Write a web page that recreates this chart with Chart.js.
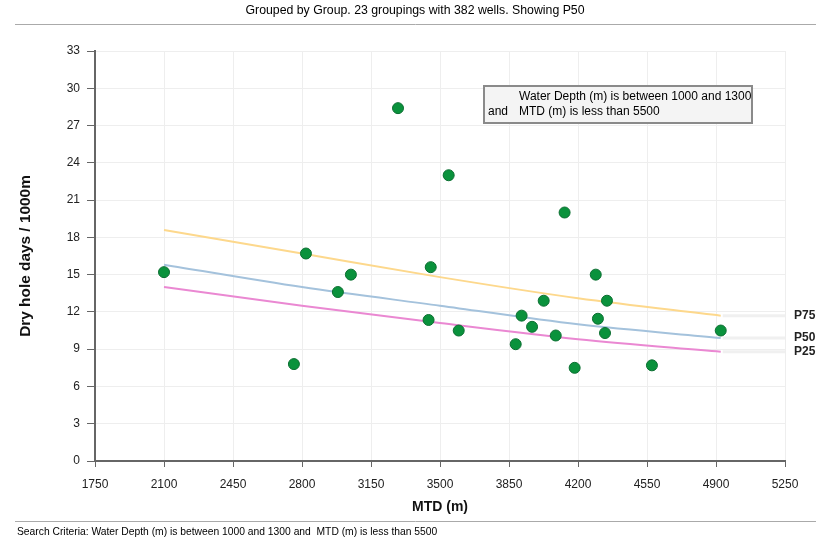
<!DOCTYPE html>
<html>
<head>
<meta charset="utf-8">
<script src="https://cdn.jsdelivr.net/npm/chart.js@4"></script>
<style>
  body { margin: 0; background: #fff; }
  #wrap { width: 830px; height: 548px; position: relative; }
</style>
</head>
<body>
<div id="wrap"><canvas id="chart" width="830" height="548"></canvas></div>
<script>
// wells grouped, MTD vs dry hole days
const mtd = [2100, 2759, 2820, 2982, 3048, 3287, 3442, 3453, 3544, 3595, 3884, 3914,
             3967, 4026, 4087, 4132, 4183, 4290, 4301, 4337, 4347, 4575, 4924];
const days = [15.2, 7.8, 16.7, 13.6, 15.0, 28.4, 11.35, 15.6, 23.0, 10.5, 9.4, 11.7,
              10.8, 12.9, 10.1, 20.0, 7.5, 15.0, 11.45, 10.3, 12.9, 7.7, 10.5];

// percentile trend lines
const fitX = [2100, 2800, 3500, 4200, 4924];
const p75 = [18.6, 16.7, 14.8, 13.1, 11.7];
const p50 = [15.8, 14.0, 12.5, 11.0, 9.9];
const p25 = [14.0, 12.5, 11.1, 9.8, 8.8];

const xTicks = [1750, 2100, 2450, 2800, 3150, 3500, 3850, 4200, 4550, 4900, 5250];

const titleText = 'Grouped by Group. 23 groupings with 382 wells. Showing P50';
const footerText = 'Search Criteria: Water Depth (m) is between 1000 and 1300 and  MTD (m) is less than 5500';
const boxLines = [['', 'Water Depth (m) is between 1000 and 1300'], ['and', 'MTD (m) is less than 5500']];

const FONT = '"Liberation Sans", Arial, sans-serif';

function pts(xs, ys) {
    return xs.map((x, i) => ({ x: x, y: ys[i] }));
}

const decorations = {
    id: 'decorations',
    afterDraw(chart) {
        const ctx = chart.ctx;
        const xs = chart.scales.x, ys = chart.scales.y;
        ctx.save();

        // header + footer
        ctx.fillStyle = '#000';
        ctx.font = '12.3px ' + FONT;
        ctx.textAlign = 'center';
        ctx.textBaseline = 'middle';
        ctx.fillText(titleText, 415, 11);
        ctx.strokeStyle = '#aaa';
        ctx.lineWidth = 1;
        ctx.beginPath();
        ctx.moveTo(15, 24.5); ctx.lineTo(816, 24.5);
        ctx.moveTo(15, 521.5); ctx.lineTo(816, 521.5);
        ctx.stroke();
        ctx.textAlign = 'left';
        ctx.font = '10.3px ' + FONT;
        ctx.fillText(footerText, 17, 532);

        // right-hand percentile labels with faint connectors
        const ends = [['P75', p75], ['P50', p50], ['P25', p25]];
        ends.forEach(([name, arr]) => {
            const px = xs.getPixelForValue(fitX[fitX.length - 1]);
            const py = ys.getPixelForValue(arr[arr.length - 1]);
            ctx.strokeStyle = '#f0f0f0';
            ctx.lineWidth = 3;
            ctx.beginPath();
            ctx.moveTo(px + 2, py);
            ctx.lineTo(xs.right, py);
            ctx.stroke();
            ctx.fillStyle = '#222';
            ctx.font = 'bold 12px ' + FONT;
            ctx.fillText(name, xs.right + 9, py);
        });

        // criteria box
        ctx.fillStyle = '#f4f4f4';
        ctx.fillRect(484, 86, 268, 37);
        ctx.strokeStyle = '#8a8a8a';
        ctx.lineWidth = 2;
        ctx.strokeRect(484, 86, 268, 37);
        ctx.fillStyle = '#000';
        ctx.font = '12px ' + FONT;
        boxLines.forEach((ln, i) => {
            ctx.fillText(ln[0], 488, 97 + i * 15);
            ctx.fillText(ln[1], 519, 97 + i * 15);
        });
        ctx.restore();
    }
};

const lineDs = (label, arr, color) => ({
    type: 'line',
    label: label,
    data: pts(fitX, arr),
    borderColor: color,
    borderWidth: 2,
    pointRadius: 0,
    fill: false,
    cubicInterpolationMode: 'monotone',
    order: 2
});

new Chart(document.getElementById('chart'), {
    type: 'scatter',
    data: {
        datasets: [
            lineDs('P75', p75, '#fdd88c'),
            lineDs('P50', p50, '#a4c2dc'),
            lineDs('P25', p25, '#ea88d2'),
            {
                label: 'Groups',
                data: pts(mtd, days),
                backgroundColor: '#0a923c',
                borderColor: '#0b6e31',
                borderWidth: 1,
                pointRadius: 5.5,
                order: 1
            }
        ]
    },
    options: {
        responsive: false,
        animation: false,
        layout: { padding: { top: 51, right: 45, left: 0, bottom: 27 } },
        plugins: {
            legend: { display: false },
            tooltip: { enabled: false }
        },
        scales: {
            x: {
                type: 'linear',
                min: 1750,
                max: 5250,
                afterBuildTicks: s => { s.ticks = xTicks.map(v => ({ value: v })); },
                afterFit: s => { s.height = 60; },
                grid: { color: '#eeeeee', tickColor: '#666', tickLength: 6 },
                border: { color: '#666', width: 2 },
                ticks: { color: '#222', font: { family: FONT, size: 12 }, padding: 10, maxRotation: 0,
                         callback: v => String(v) },
                title: { display: true, text: 'MTD (m)', color: '#111', font: { family: FONT, size: 14, weight: 'bold' }, padding: { top: 0, bottom: 5 } }
            },
            y: {
                min: 0,
                max: 33,
                ticks: { stepSize: 3, color: '#222', font: { family: FONT, size: 12 }, padding: 7 },
                afterFit: s => { s.width = 95; },
                grid: { color: '#eeeeee', tickColor: '#666', tickLength: 8 },
                border: { color: '#666', width: 2 },
                title: { display: true, text: 'Dry hole days / 1000m', color: '#111', font: { family: FONT, size: 15.4, weight: 'bold' }, padding: { top: 17, bottom: 0 } }
            }
        }
    },
    plugins: [decorations]
});
</script>
</body>
</html>
